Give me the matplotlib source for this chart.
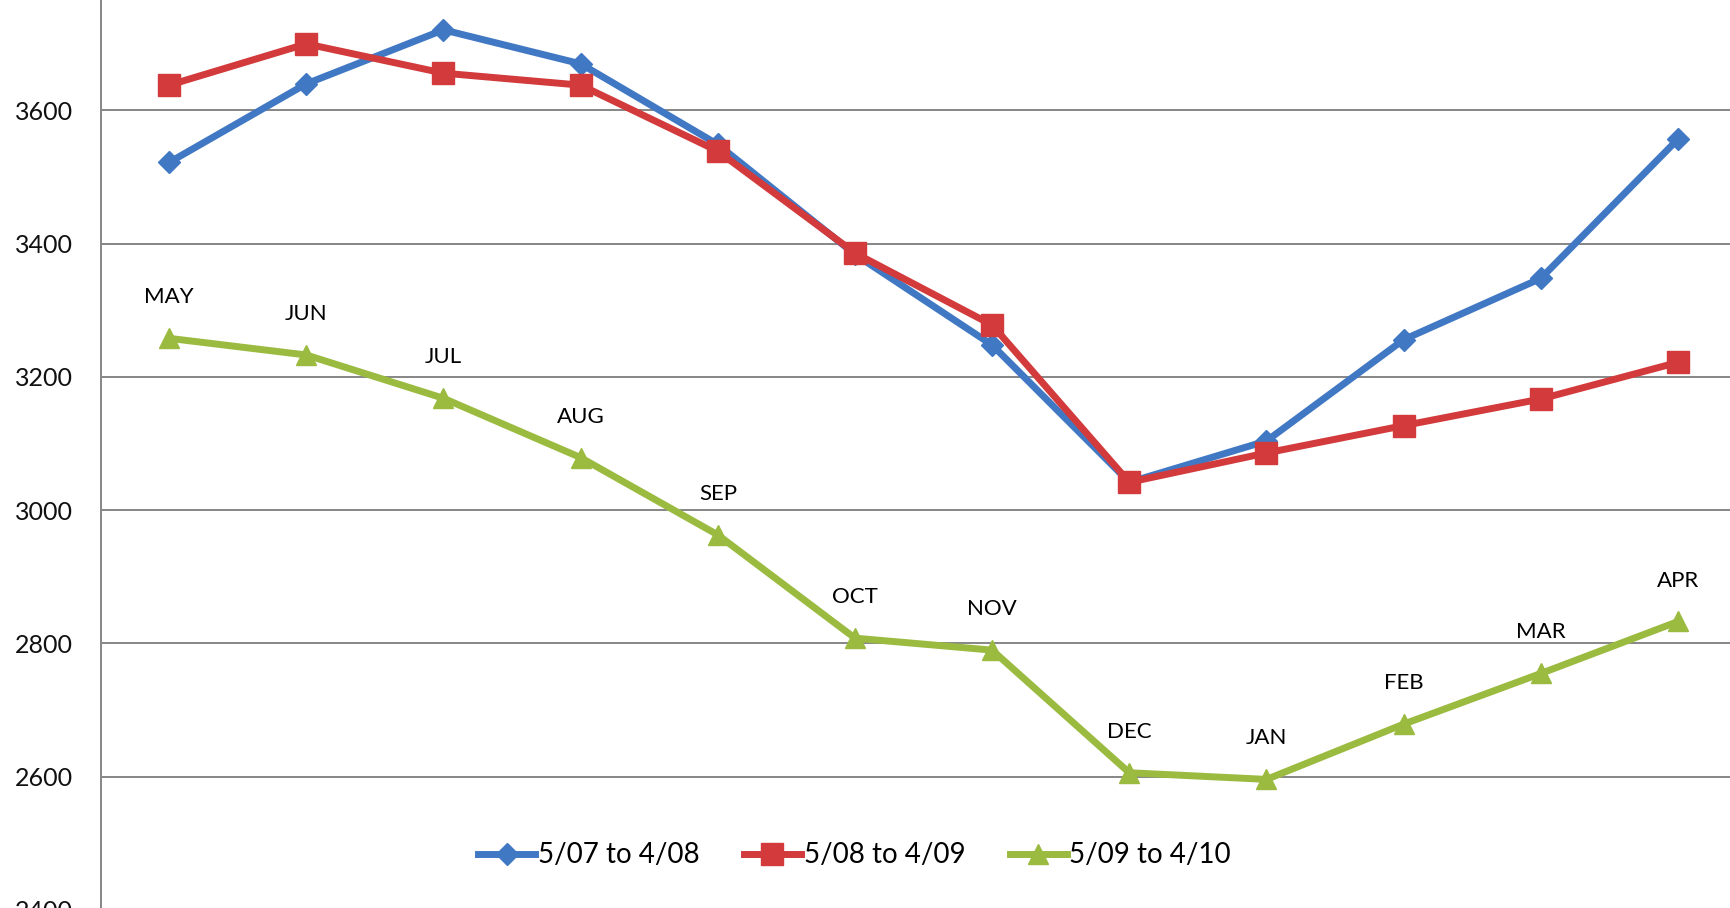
import matplotlib
matplotlib.use("Agg")
import matplotlib.pyplot as plt

# monthly values
months = ["MAY", "JUN", "JUL", "AUG", "SEP", "OCT", "NOV", "DEC", "JAN", "FEB", "MAR", "APR"]
s0708 = [3522, 3640, 3721, 3670, 3549, 3384, 3248, 3042, 3104, 3256, 3348, 3557]
s0809 = [3638, 3700, 3656, 3638, 3539, 3386, 3278, 3042, 3086, 3127, 3167, 3222]
s0910 = [3258, 3233, 3168, 3079, 2963, 2808, 2790, 2606, 2596, 2679, 2755, 2833]
labels = ["5/07 to 4/08", "5/08 to 4/09", "5/09 to 4/10"]
yticks = [2400, 2600, 2800, 3000, 3200, 3400, 3600]

plt.rcParams['font.family'] = ['Lato', 'DejaVu Sans']

fig = plt.figure(figsize=(17.3, 9.08), dpi=100)
# the picture is a crop: axes run past the top, right and bottom edges
ax = fig.add_axes([0.0581, -0.0022, 0.9515, 1.0273])

x = list(range(len(months)))
blue = '#4178C4'
red = '#D23A3C'
green = '#9BBB40'

ax.plot(x, s0708, color=blue, lw=5, marker='D', ms=11, mec=blue, label=labels[0], zorder=3)
ax.plot(x, s0809, color=red, lw=5, marker='s', ms=16, mec=red, label=labels[1], zorder=4)
ax.plot(x, s0910, color=green, lw=5, marker='^', ms=14, mec=green, label=labels[2], zorder=5)

for xi, yi, m in zip(x, s0910, months):
    ax.annotate(m, (xi, yi), xytext=(0, 29.5), textcoords='offset points',
                ha='center', va='center', fontsize=16, color='#000000')

ax.set_xlim(-0.5, 11.5)
ax.set_ylim(2400, 3800)
ax.set_xticks([])
ax.set_yticks(yticks)
ax.tick_params(axis='y', length=0, pad=20, labelsize=18, labelcolor='#111111')
ax.yaxis.grid(True, color='#868686', lw=1.4)
ax.set_axisbelow(True)
for side in ['top', 'right', 'bottom']:
    ax.spines[side].set_visible(False)
ax.spines['left'].set_color('#868686')
ax.spines['left'].set_linewidth(1.4)

fig.legend(loc='center', bbox_to_anchor=(0.494, 0.058), ncol=3, frameon=False,
           fontsize=20, handlelength=2.05, handletextpad=0.1, columnspacing=1.6)

fig.savefig('out.png', dpi=100)
